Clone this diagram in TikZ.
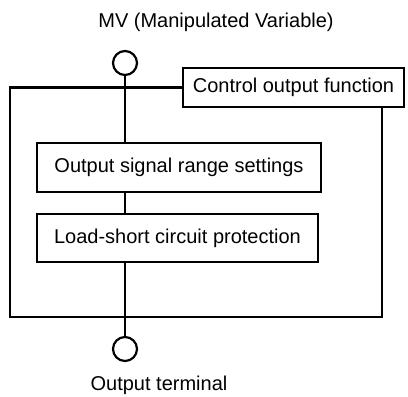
\documentclass[tikz,border=0pt]{standalone}
\usepackage{fontspec}
\setmainfont{Liberation Sans}
\begin{document}
\begin{tikzpicture}[
    x=1pt, y=-1pt,
    line width=2.2pt,
    fblock/.style={draw, inner sep=0pt, font=\fontsize{20}{24}\selectfont},
    term/.style={draw, circle, minimum size=24pt, inner sep=0pt},
    lbl/.style={font=\fontsize{20}{24}\selectfont, inner sep=0pt},
  ]
    \useasboundingbox (0,0) rectangle (408,397);

    % terminals and labels
    \node[lbl] (mvlbl) at (216,22) {MV (Manipulated Variable)};
    \node[term] (tin) at (125,63) {};
    \node[term] (tout) at (125,349) {};
    \node[lbl] (outlbl) at (159,385) {Output terminal};

    % function blocks
    \node[fblock, minimum width=221pt, minimum height=39pt] (ctrl) at (293.5,87.5) {Control output function};
    \node[fblock, minimum width=284pt, minimum height=49pt] (range) at (179,167.5) {Output signal range settings};
    \node[fblock, minimum width=281pt, minimum height=48pt] (short) at (177.5,238) {Load-short circuit protection};

    % outer frame
    \coordinate (fl) at (10,317);
    \coordinate (fr) at (382,317);
    \draw (ctrl.west) -| (fl) -- (fr) -- (ctrl.south -| fr);

    % signal path
    \draw (tin.south) -- (tin.south |- range.north);
    \draw (tin.south |- range.south) -- (tin.south |- short.north);
    \draw (tin.south |- short.south) -- (tout.north);
  \end{tikzpicture}
\end{document}
